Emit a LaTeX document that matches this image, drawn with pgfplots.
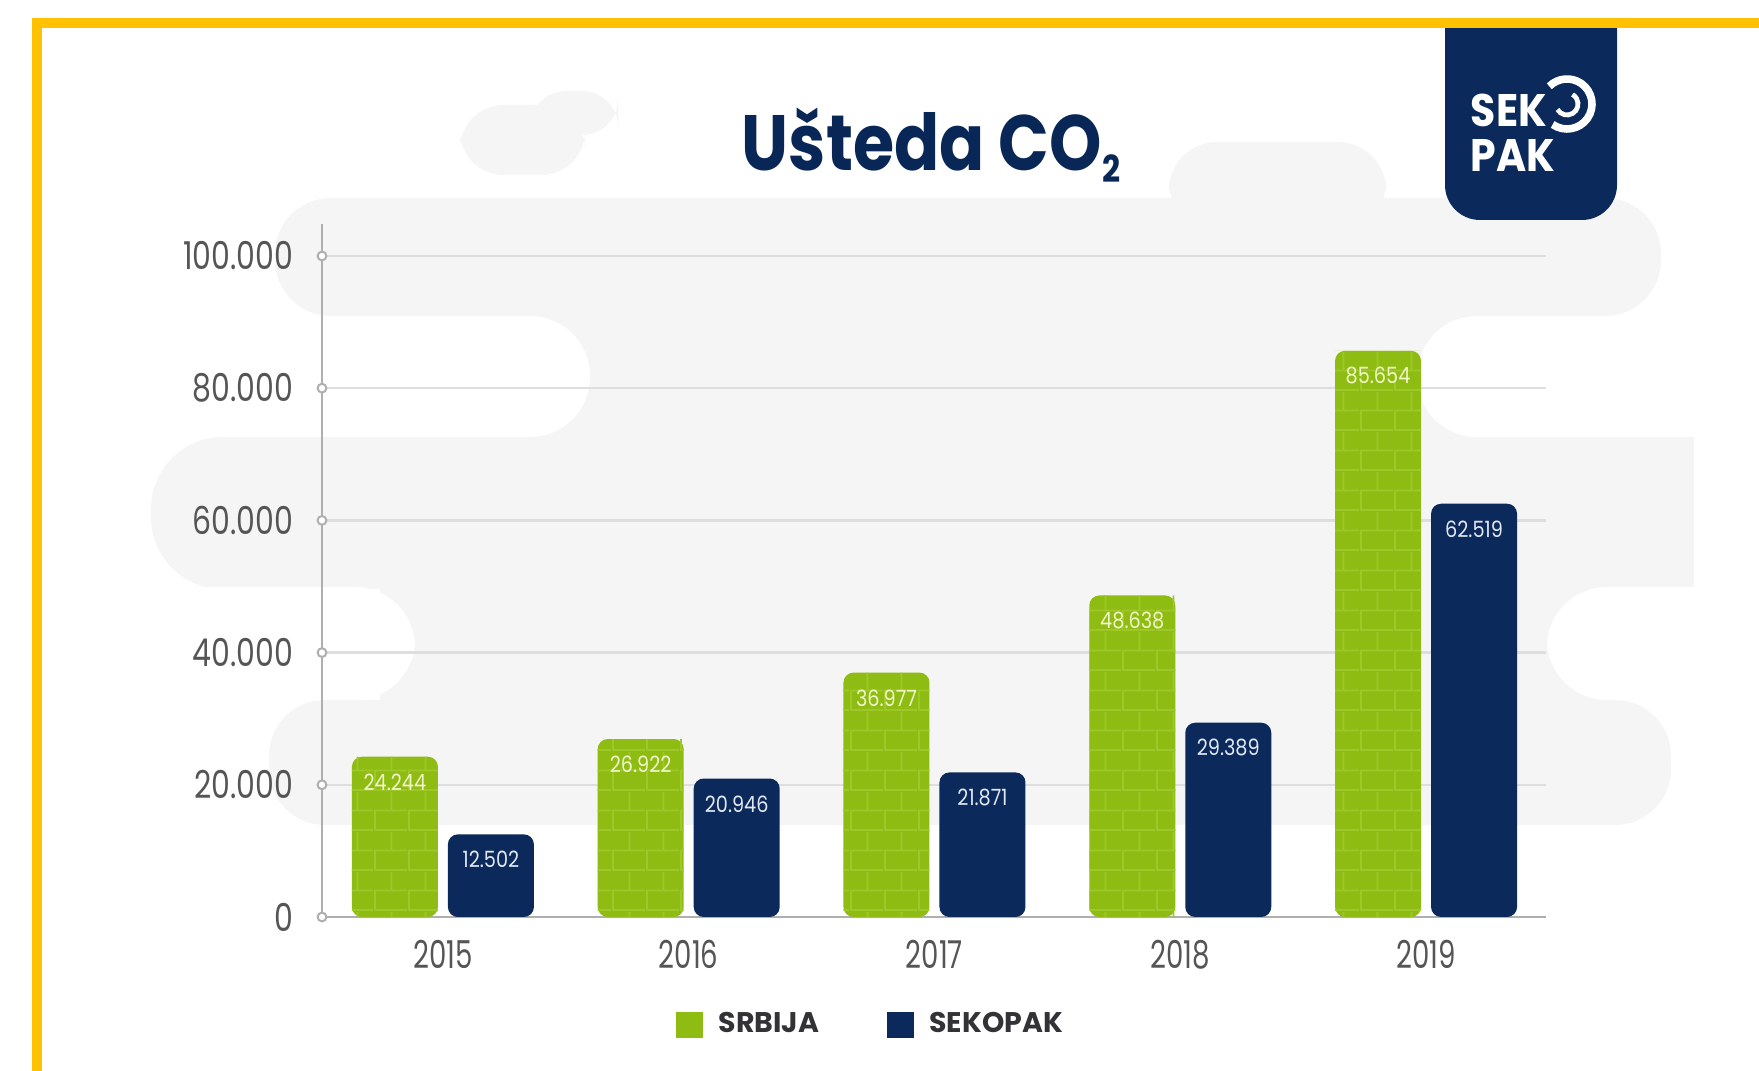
\documentclass[border=0pt]{standalone}
\usepackage{fontspec}
\setmainfont{Poppins}
\newfontfamily\tickfont[FakeStretch=0.72]{Poppins}
\newfontfamily\ytickfont[FakeStretch=0.78]{Poppins}
\newfontfamily\barfont[FakeStretch=0.86]{Poppins}
\newfontfamily\titlefont[FakeStretch=0.85]{Poppins}
\newfontfamily\logofont[FakeStretch=0.9]{Poppins}
\usepackage{pgfplots}
\pgfplotsset{compat=1.18}
\usetikzlibrary{patterns}
\definecolor{srb}{RGB}{142,188,18}
\definecolor{brick}{RGB}{158,200,42}
\definecolor{navy}{RGB}{11,41,90}
\definecolor{ttl}{RGB}{8,38,86}
\definecolor{bg}{RGB}{245,245,245}
\definecolor{ylw}{RGB}{255,193,0}
\definecolor{tickc}{RGB}{85,85,85}
\definecolor{legc}{RGB}{50,50,55}
\definecolor{axisgray}{RGB}{175,175,175}
\definecolor{gridgray}{RGB}{222,222,222}
\definecolor{lblg}{RGB}{240,246,200}
\definecolor{lbln}{RGB}{225,232,242}

\pgfdeclarepatternformonly{brickwall}{\pgfqpoint{0pt}{0pt}}{\pgfqpoint{8.5pt}{10pt}}{\pgfqpoint{8.5pt}{10pt}}{%
  \pgfsetlinewidth{0.5pt}%
  \pgfpathmoveto{\pgfqpoint{0pt}{0.25pt}}\pgfpathlineto{\pgfqpoint{8.5pt}{0.25pt}}%
  \pgfpathmoveto{\pgfqpoint{0pt}{5.25pt}}\pgfpathlineto{\pgfqpoint{8.5pt}{5.25pt}}%
  \pgfpathmoveto{\pgfqpoint{0.25pt}{0.25pt}}\pgfpathlineto{\pgfqpoint{0.25pt}{5.25pt}}%
  \pgfpathmoveto{\pgfqpoint{4.5pt}{5.25pt}}\pgfpathlineto{\pgfqpoint{4.5pt}{10pt}}%
  \pgfusepath{stroke}%
}

\begin{document}
\begin{tikzpicture}
\useasboundingbox (0,0) rectangle (439.75pt,267.75pt);
% background decoration (coordinates in reference pixels)
\begin{scope}[x=0.25pt, y=-0.25pt, yshift=267.75pt]
  \fill[white] (0,0) rectangle (1759,1071);
  \fill[bg, rounded corners=11pt] (460,105) rectangle (585,175);
  \fill[bg, rounded corners=9pt] (530,91) rectangle (618,135);
  \fill[bg, rounded corners=12pt] (1169,142) rectangle (1386,230);
  \fill[bg, rounded corners=14pt] (275,198) rectangle (1661,316);
  \fill[bg] (400,300) rectangle (1550,445);
  \fill[bg] (300,437) rectangle (1694,589);
  \fill[bg, rounded corners=18pt] (151,437) rectangle (400,589);
  \fill[bg] (380,580) rectangle (1600,710);
  \fill[bg, rounded corners=14pt] (269,700) rectangle (1671,825);
  \fill[white, rounded corners=15pt] (-100,316) rectangle (590,437);
  \fill[white, rounded corners=15pt] (1417,316) rectangle (1900,437);
  \fill[white, rounded corners=15pt] (-100,587) rectangle (415,700);
  \fill[white, rounded corners=15pt] (1547,587) rectangle (1900,700);
\end{scope}

\begin{axis}[
  at={(80.5pt,38.5pt)}, anchor=south west,
  scale only axis, width=306pt, height=173.25pt,
  xmin=-0.492, xmax=4.488, ymin=0, ymax=104840,
  axis x line*=bottom, axis y line*=left,
  axis line style={draw=axisgray, line width=0.6pt},
  xtick={0,1,2,3,4}, xticklabels={2015,2016,2017,2018,2019},
  ytick={0,20000,40000,60000,80000,100000},
  yticklabels={0,20.000,40.000,60.000,80.000,100.000},
  scaled y ticks=false,
  major tick length=0pt,
  ymajorgrids, grid style={draw=gridgray, line width=0.6pt},
  xticklabel style={font=\tickfont\fontsize{9.6}{10}\selectfont, text=tickc, anchor=north, inner sep=0pt, yshift=-5.5pt},
  yticklabel style={font=\ytickfont\fontsize{9.6}{10}\selectfont, text=tickc, anchor=east, inner sep=0pt, xshift=-7pt},
  clip=false,
  legend style={at={(0.279,-0.156)}, anchor=west, draw=none, fill=none,
    legend columns=2, font=\bfseries\fontsize{7.1}{8}\selectfont, text=legc,
    /tikz/every even column/.append style={column sep=15pt}},
  legend cell align=left,
]
% tick circles on the y axis
\addplot[only marks, mark=*, mark size=1.1pt, mark options={fill=white, draw=axisgray, line width=0.5pt}, forget plot]
  coordinates {(-0.492,0) (-0.492,20000) (-0.492,40000) (-0.492,60000) (-0.492,80000) (-0.492,100000)};
% SRBIJA
\addplot[ybar, bar width=21.5pt, bar shift=-12pt, fill=srb, draw=none, rounded corners=2.5pt, forget plot]
  coordinates {(0,24244) (1,26922) (2,36977) (3,48638) (4,85654)};
\addplot[ybar, bar width=21.5pt, bar shift=-12pt, draw=none, pattern=brickwall, pattern color=brick, forget plot]
  coordinates {(0,24244) (1,26922) (2,36977) (3,48638) (4,85654)};
\addplot[ybar, bar width=21.5pt, bar shift=-12pt, draw=none, fill=none, forget plot,
  point meta=explicit symbolic, nodes near coords={\pgfplotspointmeta},
  nodes near coords style={font=\barfont\fontsize{5.6}{6}\selectfont, text=lblg, inner sep=0pt, anchor=south, xshift=-12pt, yshift=-8.6pt}]
  coordinates {(0,24244)[24.244] (1,26922)[26.922] (2,36977)[36.977] (3,48638)[48.638] (4,85654)[85.654]};
% SEKOPAK
\addplot[ybar, bar width=21.5pt, bar shift=12pt, fill=navy, draw=none, rounded corners=2.5pt, forget plot,
  point meta=explicit symbolic, nodes near coords={\pgfplotspointmeta},
  nodes near coords style={font=\barfont\fontsize{5.6}{6}\selectfont, text=lbln, inner sep=0pt, anchor=south, xshift=12pt, yshift=-8.6pt}]
  coordinates {(0,12502)[12.502] (1,20946)[20.946] (2,21871)[21.871] (3,29389)[29.389] (4,62519)[62.519]};
\addlegendimage{legend image code/.code={\fill[srb] (0pt,-3.1pt) rectangle (6.2pt,3.1pt); \path (8.2pt,0pt);}}
\addlegendentry{SRBIJA}
\addlegendimage{legend image code/.code={\fill[navy] (0pt,-3.1pt) rectangle (6.2pt,3.1pt); \path (8.2pt,0pt);}}
\addlegendentry{SEKOPAK}
\end{axis}

% title, logo and frame
\begin{scope}[x=0.25pt, y=-0.25pt, yshift=267.75pt]
  \node[anchor=base, inner sep=0pt, text=ttl, font=\titlefont\bfseries\fontsize{19.6}{20}\selectfont] at (931,171)
    {Ušteda CO\raisebox{-3pt}{\fontsize{9.3}{10}\selectfont 2}};
  \fill[navy] (1445,20) [rounded corners=8.75pt] -- (1445,220) -- (1617,220) [sharp corners] -- (1617,20) -- cycle;
  \node[anchor=base west, inner sep=0pt, text=white, font=\logofont\bfseries\fontsize{11.4}{12}\selectfont] at (1470,127) {SEK};
  \node[anchor=base west, inner sep=0pt, text=white, font=\logofont\bfseries\fontsize{11.4}{12}\selectfont] at (1470,172) {PAK};
  \draw[white, line width=1.9pt] (1567,104) ++(125:25) arc[start angle=125, end angle=-135, radius=25];
  \draw[white, line width=1.2pt] (1567,104) ++(150:11) arc[start angle=150, end angle=-60, radius=11];
  \fill[ylw] (32,18) rectangle (1759,28);
  \fill[ylw] (32,18) rectangle (42,1071);
\end{scope}
\end{tikzpicture}
\end{document}
